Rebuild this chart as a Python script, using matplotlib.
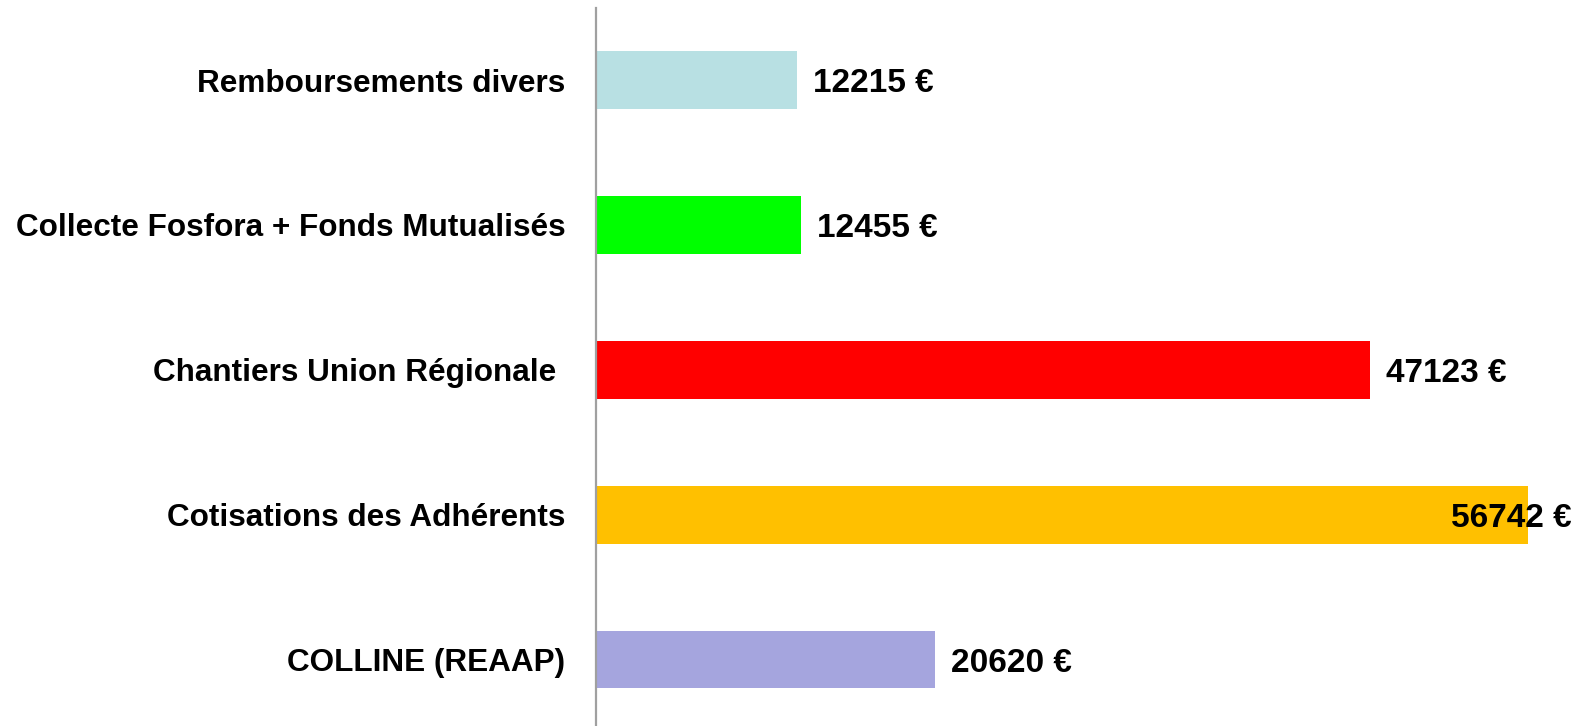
import matplotlib
matplotlib.use("Agg")
import matplotlib.pyplot as plt

categories = ["Remboursements divers",
              "Collecte Fosfora + Fonds Mutualisés",
              "Chantiers Union Régionale ",
              "Cotisations des Adhérents",
              "COLLINE (REAAP)"]
values = [12215, 12455, 47123, 56742, 20620]
colors = ["#b8e0e3", "#00ff00", "#ff0000", "#ffc000", "#a5a5de"]

W, H = 1588, 726
fig = plt.figure(figsize=(W / 100, H / 100), dpi=100)
ax_left = 596 / W
ax = fig.add_axes([ax_left, 0, 1 - ax_left, 1 - 8 / H])

xmax = (W - 596) / 0.016425
ypos = list(range(len(categories)))
ax.barh(ypos, values, height=0.40, color=colors, zorder=2)
ax.set_xlim(0, xmax)
ax.set_ylim(4.459, -0.497)

cat_font = dict(family=["Liberation Sans", "DejaVu Sans"], fontweight="bold", fontsize=22.7)
val_font = dict(family=["Liberation Sans", "DejaVu Sans"], fontweight="bold", fontsize=24)
ax.set_yticks(ypos)
ax.set_yticklabels(categories, **cat_font)
ax.tick_params(axis="y", length=0, pad=22)
ax.set_xticks([])

for s in ["top", "right", "bottom"]:
    ax.spines[s].set_visible(False)
ax.spines["left"].set_color("#a0a0a0")
ax.spines["left"].set_linewidth(1.6)
ax.spines["left"].set_zorder(3)

pad = 16 / 0.016425
right_lim = (1572 - 596) / 0.016425
for y, v in zip(ypos, values):
    txt = f"{v} €"
    if v + pad + 7000 > xmax:
        ax.text(right_lim, y, txt, ha="right", va="center_baseline", zorder=4, **val_font)
    else:
        ax.text(v + pad, y, txt, ha="left", va="center_baseline", zorder=4, **val_font)

fig.savefig("out.png", dpi=100)
